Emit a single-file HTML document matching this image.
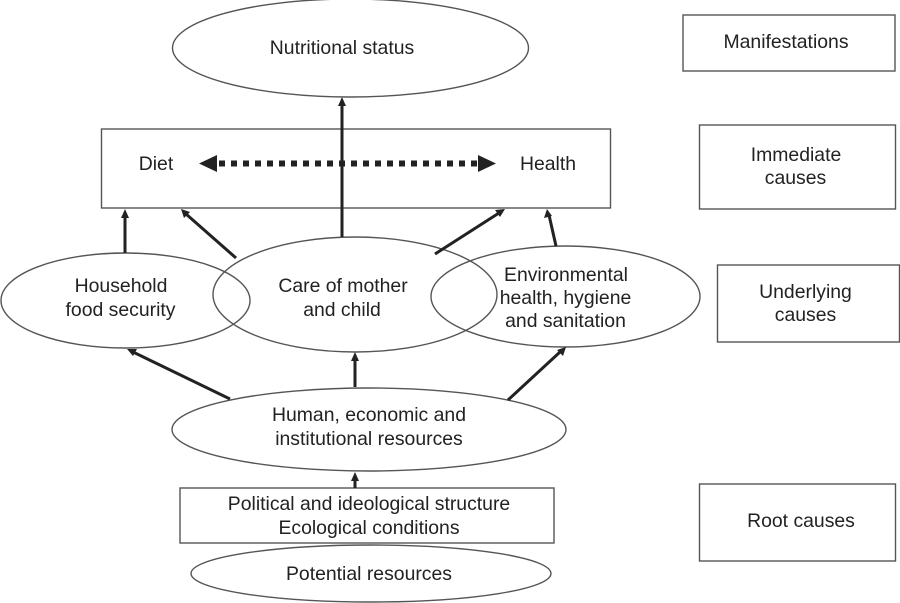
<!DOCTYPE html>
<html>
<head>
<meta charset="utf-8">
<style>
html,body{margin:0;padding:0;background:#fff;}
svg{display:block;}
text{font-family:"Liberation Sans",sans-serif;font-size:19.4px;fill:#222;text-anchor:middle;}
.s{fill:none;stroke:#555;stroke-width:1.4;}
.w{fill:#fff;stroke:#555;stroke-width:1.4;}
.a{stroke:#222;stroke-width:3;fill:none;}
.h{fill:#222;stroke:none;}
</style>
</head>
<body>
<svg width="900" height="603" viewBox="0 0 900 603" xmlns="http://www.w3.org/2000/svg">
<ellipse class="w" cx="350.500" cy="48" rx="178" ry="49"/>
<rect class="w" x="101.500" y="129" width="509" height="79"/>
<rect class="w" x="683" y="15" width="212" height="56"/>
<rect class="w" x="699.500" y="125" width="196" height="84"/>
<rect class="w" x="717.500" y="265" width="182" height="77"/>
<rect class="w" x="699.500" y="484" width="196" height="77"/>

<ellipse class="s" cx="125.500" cy="300.500" rx="124.500" ry="47.500"/>
<ellipse class="s" cx="355" cy="294.500" rx="142" ry="57.500"/>
<ellipse class="s" cx="565.500" cy="296.500" rx="134.500" ry="50.500"/>
<ellipse class="w" cx="369" cy="429.500" rx="197" ry="41.500"/>
<rect class="w" x="180" y="488" width="374" height="55"/>
<ellipse class="w" cx="371" cy="573.500" rx="180" ry="28.500"/>

<!-- connectors -->
<line class="a" x1="342" y1="237" x2="342" y2="104"/>
<polygon class="h" points="342,97 338,106 346,106"/>
<line x1="219" y1="163.500" x2="478" y2="163.500" stroke="#222" stroke-width="6" stroke-dasharray="6 6"/>
<polygon class="h" points="199,163.500 217,155 217,172"/>
<polygon class="h" points="496,163.500 478,155 478,172"/>

<line class="a" x1="125" y1="253" x2="125" y2="216"/>
<polygon class="h" points="125,209 121,218 129,218"/>
<line class="a" x1="236" y1="258" x2="186" y2="214"/>
<polygon class="h" points="181,209 190,212 184,218"/>
<line class="a" x1="435" y1="254" x2="499" y2="213"/>
<polygon class="h" points="505,209 500,217 495,210"/>
<line class="a" x1="556" y1="246" x2="549" y2="215"/>
<polygon class="h" points="547,209 544,218 552,216"/>

<line class="a" x1="230" y1="399" x2="133" y2="352"/>
<polygon class="h" points="127,349 137,349 133,356"/>
<line class="a" x1="355" y1="387" x2="355" y2="359"/>
<polygon class="h" points="355,352 351,361 359,361"/>
<line class="a" x1="508" y1="400" x2="560" y2="352"/>
<polygon class="h" points="566,347 563,356 557,350"/>
<line class="a" x1="355" y1="488" x2="355" y2="478"/>
<polygon class="h" points="355,472 351,481 359,481"/>

<!-- labels -->
<text x="342" y="54">Nutritional status</text>
<text x="156" y="170">Diet</text>
<text x="548" y="170">Health</text>
<text x="121" y="292">Household</text>
<text x="120.500" y="316">food security</text>
<text x="343" y="292">Care of mother</text>
<text x="342" y="316">and child</text>
<text x="566" y="281">Environmental</text>
<text x="565.500" y="304">health, hygiene</text>
<text x="565.500" y="327">and sanitation</text>
<text x="369" y="421">Human, economic and</text>
<text x="369" y="445">institutional resources</text>
<text x="369" y="510">Political and ideological structure</text>
<text x="369" y="534">Ecological conditions</text>
<text x="369" y="580">Potential resources</text>
<text x="786" y="48">Manifestations</text>
<text x="796" y="161">Immediate</text>
<text x="795.500" y="184">causes</text>
<text x="805.500" y="298">Underlying</text>
<text x="805.500" y="321">causes</text>
<text x="801" y="527">Root causes</text>
</svg>
</body>
</html>
